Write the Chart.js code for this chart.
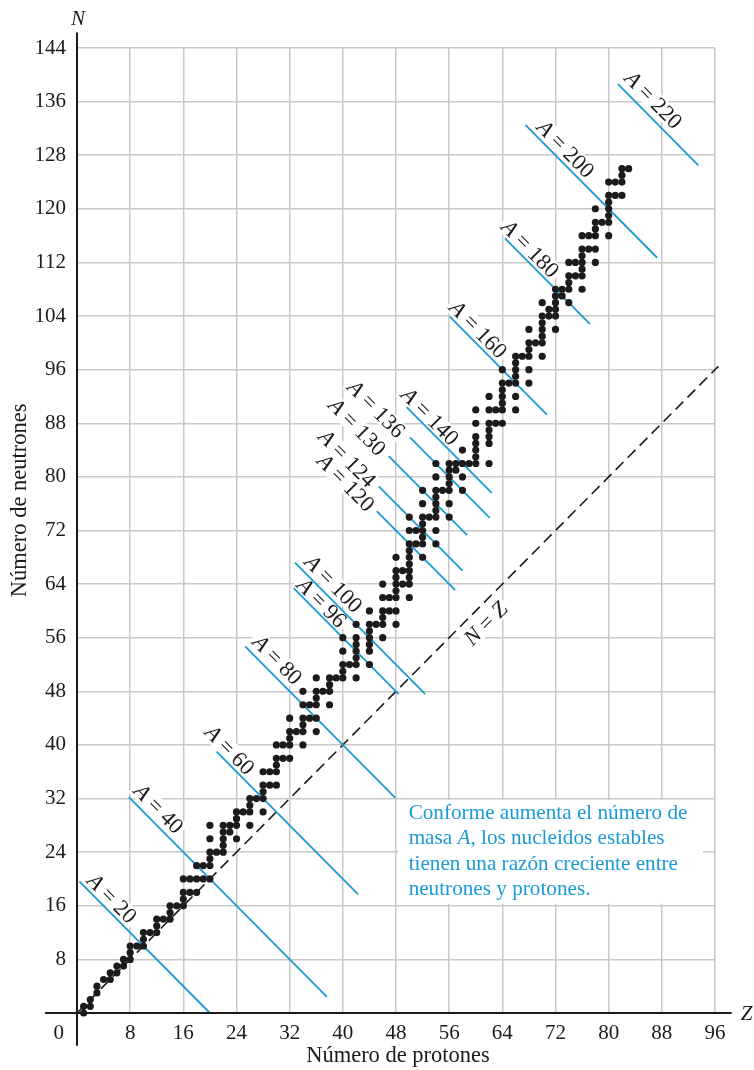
<!DOCTYPE html>
<html>
<head>
<meta charset="utf-8">
<script src="https://cdn.jsdelivr.net/npm/chart.js@4.4.1/dist/chart.umd.min.js"></script>
<style>
  html, body { margin: 0; padding: 0; background: #fff; }
  #wrap { width: 754px; height: 1070px; }
</style>
</head>
<body>
<div id="wrap"><canvas id="segre" width="754" height="1070"></canvas></div>
<script>
/* =========================
   Carta de Segrè: núcleos estables
   N (neutrones) contra Z (protones)
========================= */

/* ── datos ── */
var zTicks = [0, 8, 16, 24, 32, 40, 48, 56, 64, 72, 80, 88, 96];
var nTicks = [0, 8, 16, 24, 32, 40, 48, 56, 64, 72, 80, 88, 96, 104, 112, 120, 128, 136, 144];

// Z de cada elemento con núcleos estables (sin Tc ni Pm)
var stableZ = [
     1,  2,  3,  4,  5,  6,  7,  8,  9, 10,
    11, 12, 13, 14, 15, 16, 17, 18, 19, 20,
    21, 22, 23, 24, 25, 26, 27, 28, 29, 30,
    31, 32, 33, 34, 35, 36, 37, 38, 39, 40,
    41, 42, 44, 45, 46, 47, 48, 49, 50, 51,
    52, 53, 54, 55, 56, 57, 58, 59, 60, 62,
    63, 64, 65, 66, 67, 68, 69, 70, 71, 72,
    73, 74, 75, 76, 77, 78, 79, 80, 81, 82,
    83
];
// N de los isótopos estables, en el mismo orden que stableZ
var stableN = [
    [0, 1], [1, 2], [3, 4], [5], [5, 6], [6, 7], [7, 8], [8, 9, 10], [10], [10, 11, 12],
    [12], [12, 13, 14], [14], [14, 15, 16], [16], [16, 17, 18, 20], [18, 20], [18, 20, 22], [20, 22], [20, 22, 23, 24, 26, 28],
    [24], [24, 25, 26, 27, 28], [27, 28], [26, 28, 29, 30], [30], [28, 30, 31, 32], [32], [30, 32, 33, 34, 36], [34, 36], [34, 36, 37, 38, 40],
    [38, 40], [38, 40, 41, 42, 44], [42], [40, 42, 43, 44, 46, 48], [44, 46], [42, 44, 46, 47, 48, 50], [48], [46, 48, 49, 50], [50], [50, 51, 52, 54, 56],
    [52], [50, 52, 53, 54, 55, 56, 58], [52, 54, 55, 56, 57, 58, 60], [58], [56, 58, 59, 60, 62, 64], [60, 62], [58, 60, 62, 63, 64, 65, 66, 68], [64, 66], [62, 64, 65, 66, 67, 68, 69, 70, 72, 74], [70, 72],
    [68, 70, 71, 72, 73, 74, 76, 78], [74], [70, 72, 74, 75, 76, 77, 78, 80, 82], [78], [74, 76, 78, 79, 80, 81, 82], [81, 82], [78, 80, 82, 84], [82], [82, 83, 84, 85, 86, 88, 90], [82, 85, 86, 87, 88, 90, 92],
    [88, 90], [88, 90, 91, 92, 93, 94, 96], [94], [90, 92, 94, 95, 96, 97, 98], [98], [94, 96, 98, 99, 100, 102], [100], [98, 100, 101, 102, 103, 104, 106], [104, 105], [102, 104, 105, 106, 107, 108],
    [107, 108], [106, 108, 109, 110, 112], [110, 112], [108, 110, 111, 112, 113, 114, 116], [114, 116], [112, 114, 116, 117, 118, 120], [118], [116, 118, 119, 120, 121, 122, 124], [122, 124], [122, 124, 125, 126],
    [126]
];

// rectas de número másico constante A = Z + N
var massNumbers = [20, 40, 60, 80, 96, 100, 120, 124, 130, 136, 140, 160, 180, 200, 220];
var massZFrom   = [0.35, 7.8, 21.0, 25.3, 32.6, 32.8, 45.1, 45.4, 46.9, 50.1, 49.6, 56.1, 64.4, 67.5, 81.4];
var massZTo     = [20.0, 37.6, 42.3, 47.9, 48.4, 52.4, 56.9, 58.0, 58.7, 62.1, 62.4, 70.7, 77.2, 87.3, 93.5];

// recta N = Z (extremos en Z)
var nzLine = [0, 96.5];

/* ── estilo ── */
var C_BLUE = '#1a9ad6';
var C_INK  = '#1d1a1b';
var C_GRID = '#c8c8c8';
var SERIF  = '"Liberation Serif", "Times New Roman", serif';

// colocación de las etiquetas "A = ..." respecto al inicio de cada recta (px)
var labelAlong = [35, 29, 8, 32, 30, 42, -42, -42, -43, -44, 23, 29, 25, 45, 36];
var labelPerp  = [11, 13, 10.5, 13.5, 9.5, 12.5, -2, -3, -2, -4, 10, 11, 10.5, 11.5, 14];

/* ── datasets ── */
var dots = [];
stableZ.forEach(function (z, i) {
    stableN[i].forEach(function (n) { dots.push({ x: z, y: n }); });
});

var datasets = [{
    data: dots,
    showLine: false,
    pointRadius: 3.6,
    pointHoverRadius: 3.6,
    pointBackgroundColor: C_INK,
    pointBorderWidth: 0,
    clip: false,
}];

massNumbers.forEach(function (a, i) {
    datasets.push({
        data: [{ x: massZFrom[i], y: a - massZFrom[i] }, { x: massZTo[i], y: a - massZTo[i] }],
        showLine: true,
        borderColor: C_BLUE,
        borderWidth: 1.8,
        pointRadius: 0,
        clip: false,
    });
});

datasets.push({
    data: nzLine.map(function (z) { return { x: z, y: z }; }),
    showLine: true,
    borderColor: C_INK,
    borderWidth: 1.6,
    borderDash: [11, 6],
    pointRadius: 0,
    clip: false,
});

/* ── texto con partes en cursiva ── */
function partsWidth(ctx, parts, size) {
    var w = 0;
    parts.forEach(function (p) {
        ctx.font = (p.it ? 'italic ' : '') + size + 'px ' + SERIF;
        w += ctx.measureText(p.t).width;
    });
    return w;
}
function drawParts(ctx, parts, x, y, size) {
    parts.forEach(function (p) {
        ctx.font = (p.it ? 'italic ' : '') + size + 'px ' + SERIF;
        ctx.fillText(p.t, x, y);
        x += ctx.measureText(p.t).width;
    });
}
function drawRotated(ctx, parts, cx, cy, angle, size, color) {
    var w = partsWidth(ctx, parts, size);
    ctx.save();
    ctx.translate(cx, cy);
    ctx.rotate(angle);
    ctx.fillStyle = '#fff';
    ctx.fillRect(-w / 2 - 3, -size * 0.42, w + 6, size * 0.84);
    ctx.fillStyle = color;
    ctx.textBaseline = 'middle';
    ctx.textAlign = 'left';
    drawParts(ctx, parts, -w / 2, 1, size);
    ctx.restore();
}

var noteLines = [
    [{ t: 'Conforme aumenta el número de' }],
    [{ t: 'masa ' }, { t: 'A', it: true }, { t: ', los nucleidos estables' }],
    [{ t: 'tienen una razón creciente entre' }],
    [{ t: 'neutrones y protones.' }],
];

var decor = {
    id: 'decor',
    beforeDatasetsDraw: function (chart) {
        var ctx = chart.ctx, xs = chart.scales.x, ys = chart.scales.y;
        ctx.save();

        /* recuadro de la nota */
        var bx0 = xs.getPixelForValue(48.3), bx1 = xs.getPixelForValue(94.2);
        var by0 = ys.getPixelForValue(31.8), by1 = ys.getPixelForValue(16.3);
        ctx.fillStyle = '#fff';
        ctx.fillRect(bx0, by0, bx1 - bx0, by1 - by0);
        ctx.fillStyle = C_BLUE;
        ctx.textBaseline = 'alphabetic';
        ctx.textAlign = 'left';
        var tx = xs.getPixelForValue(49.9), ty = ys.getPixelForValue(29.0);
        noteLines.forEach(function (line, i) {
            drawParts(ctx, line, tx, ty + i * 25.5, 21.2);
        });

        /* etiquetas A = ... */
        massNumbers.forEach(function (a, i) {
            var sx = xs.getPixelForValue(massZFrom[i]), sy = ys.getPixelForValue(a - massZFrom[i]);
            var ex = xs.getPixelForValue(massZTo[i]),   ey = ys.getPixelForValue(a - massZTo[i]);
            var len = Math.hypot(ex - sx, ey - sy);
            var ux = (ex - sx) / len, uy = (ey - sy) / len;
            var nx = uy, ny = -ux;
            var cx = sx + ux * labelAlong[i] + nx * labelPerp[i];
            var cy = sy + uy * labelAlong[i] + ny * labelPerp[i];
            drawRotated(ctx, [{ t: 'A', it: true }, { t: ' = ' + a }], cx, cy, Math.atan2(uy, ux), 22.5, C_INK);
        });

        /* etiqueta N = Z */
        var ax = xs.getPixelForValue(59.8), ay = ys.getPixelForValue(59.8);
        var dx = xs.getPixelForValue(96) - xs.getPixelForValue(0);
        var dy = ys.getPixelForValue(96) - ys.getPixelForValue(0);
        var dl = Math.hypot(dx, dy);
        var vx = dx / dl, vy = dy / dl;
        drawRotated(ctx, [{ t: 'N', it: true }, { t: ' = ' }, { t: 'Z', it: true }],
            ax - vy * 16, ay + vx * 16, Math.atan2(vy, vx), 22.5, C_INK);

        ctx.restore();
    },
    afterDraw: function (chart) {
        var ctx = chart.ctx, xs = chart.scales.x, ys = chart.scales.y;
        var x0 = xs.getPixelForValue(0), y0 = ys.getPixelForValue(0);
        ctx.save();

        /* ejes */
        ctx.strokeStyle = C_INK;
        ctx.lineWidth = 2;
        ctx.beginPath();
        ctx.moveTo(xs.getPixelForValue(-4.8), y0);
        ctx.lineTo(xs.getPixelForValue(98.5), y0);
        ctx.moveTo(x0, ys.getPixelForValue(-4.9));
        ctx.lineTo(x0, ys.getPixelForValue(146.3));
        ctx.stroke();

        ctx.fillStyle = C_INK;
        ctx.textBaseline = 'middle';

        /* origen */
        ctx.textAlign = 'right';
        ctx.font = '21px ' + SERIF;
        ctx.fillText('0', x0 - 13, y0 + 20);

        /* letras de los ejes */
        ctx.textAlign = 'center';
        ctx.font = 'italic 21px ' + SERIF;
        ctx.fillText('N', x0 + 1, ys.getPixelForValue(146.3) - 13);
        ctx.fillText('Z', xs.getPixelForValue(98.5) + 15, y0 + 1);

        /* títulos */
        ctx.font = '22.5px ' + SERIF;
        ctx.fillText('Número de protones', xs.getPixelForValue(48.3), y0 + 43);
        ctx.translate(20, ys.getPixelForValue(76.5));
        ctx.rotate(-Math.PI / 2);
        ctx.fillText('Número de neutrones', 0, 0);

        ctx.restore();
    }
};

/* ── gráfico ── */
function tickFont() { return { family: SERIF, size: 21 }; }

new Chart(document.getElementById('segre'), {
    type: 'scatter',
    data: { datasets: datasets },
    options: {
        responsive: false,
        animation: false,
        devicePixelRatio: 1,
        layout: { padding: { top: 48, right: 39, left: 0, bottom: 0 } },
        plugins: {
            legend: { display: false },
            tooltip: { enabled: false },
        },
        scales: {
            x: {
                type: 'linear',
                min: 0, max: 96,
                afterBuildTicks: function (s) { s.ticks = zTicks.map(function (v) { return { value: v }; }); },
                afterFit: function (s) { s.height = 57; },
                grid: { color: C_GRID, lineWidth: 1.5, drawTicks: false },
                border: { display: false },
                ticks: {
                    autoSkip: false, maxRotation: 0, padding: 8,
                    font: tickFont(), color: C_INK,
                    callback: function (v) { return v === 0 ? '' : String(v); },
                },
            },
            y: {
                type: 'linear',
                min: 0, max: 144,
                afterBuildTicks: function (s) { s.ticks = nTicks.map(function (v) { return { value: v }; }); },
                afterFit: function (s) { s.width = 77; },
                grid: { color: C_GRID, lineWidth: 1.5, drawTicks: false },
                border: { display: false },
                ticks: {
                    autoSkip: false, padding: 11,
                    font: tickFont(), color: C_INK,
                    callback: function (v) { return v === 0 ? '' : String(v); },
                },
            },
        },
    },
    plugins: [decor],
});
</script>
</body>
</html>
